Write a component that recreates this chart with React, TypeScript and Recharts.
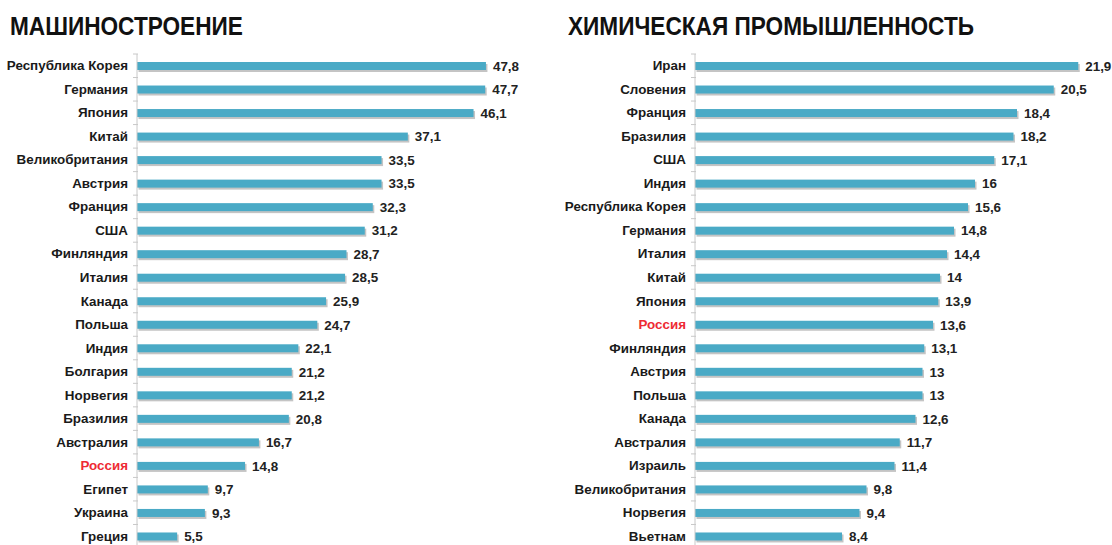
import React from "react";
import { BarChart, Bar, XAxis, YAxis, LabelList } from "recharts";

const machineCountries = [
  "Республика Корея", "Германия", "Япония", "Китай", "Великобритания", "Австрия", "Франция",
  "США", "Финляндия", "Италия", "Канада", "Польша", "Индия", "Болгария", "Норвегия",
  "Бразилия", "Австралия", "Россия", "Египет", "Украина", "Греция",
];
const machineValues = [
  47.8, 47.7, 46.1, 37.1, 33.5, 33.5, 32.3, 31.2, 28.7, 28.5, 25.9, 24.7, 22.1, 21.2, 21.2,
  20.8, 16.7, 14.8, 9.7, 9.3, 5.5,
];

const chemCountries = [
  "Иран", "Словения", "Франция", "Бразилия", "США", "Индия", "Республика Корея", "Германия",
  "Италия", "Китай", "Япония", "Россия", "Финляндия", "Австрия", "Польша", "Канада",
  "Австралия", "Израиль", "Великобритания", "Норвегия", "Вьетнам",
];
const chemValues = [
  21.9, 20.5, 18.4, 18.2, 17.1, 16, 15.6, 14.8, 14.4, 14, 13.9, 13.6, 13.1, 13, 13, 12.6,
  11.7, 11.4, 9.8, 9.4, 8.4,
];

const BAR_COLOR = "#4aaac6";
const SHADOW = "#c4c4c4";
const FONT = "'Liberation Sans', Arial, sans-serif";

const toRows = (names: string[], vals: number[]) =>
  names.map((name, i) => ({ name, value: vals[i] }));

const fmt = (v: number) => String(v).replace(".", ",");

function ShadowBar(props: any) {
  const { x, y, width, height } = props;
  const h = 8;
  const top = y + (height - h) / 2;
  return (
    <g>
      <rect x={x + 1.5} y={top + 2} width={Math.max(0, width)} height={h} fill={SHADOW} />
      <rect x={x} y={top} width={Math.max(0, width)} height={h} fill={BAR_COLOR} />
    </g>
  );
}

function makeTick(step: number) {
  return function CatTick(props: any) {
    const { x, y, payload } = props;
    const red = payload.value === "Россия";
    return (
      <g>
        <line x1={x + 4} x2={x + 9} y1={y - step / 2} y2={y - step / 2} stroke="#c8c8c8" />
        <text
          x={x - 1}
          y={y}
          dy={4.5}
          textAnchor="end"
          fontFamily={FONT}
          fontWeight="bold"
          fontSize={13.4}
          fill={red ? "#ee2b33" : "#1a1a1a"}
        >
          {payload.value}
        </text>
      </g>
    );
  };
}

function Panel({
  title, names, vals, max, left, width, plotH,
}: {
  title: string; names: string[]; vals: number[]; max: number; left: number; width: number; plotH: number;
}) {
  const data = toRows(names, vals);
  const step = plotH / names.length;
  return (
    <div style={{ position: "absolute", left, top: 0 }}>
      <div
        style={{
          position: "absolute",
          left: 10,
          top: 12,
          fontFamily: FONT,
          fontWeight: "bold",
          fontSize: 25,
          color: "#111",
          whiteSpace: "nowrap",
          transform: "scaleX(0.905)",
          transformOrigin: "left center",
        }}
      >
        {title}
      </div>
      <BarChart
        width={width}
        height={54 + plotH + 10}
        data={data}
        layout="vertical"
        margin={{ top: 54, right: 10, bottom: 10, left: 7 }}
        barCategoryGap={0}
      >
        <XAxis type="number" domain={[0, max]} hide />
        <YAxis
          type="category"
          dataKey="name"
          width={130}
          axisLine={{ stroke: "#c8c8c8" }}
          tickLine={false}
          interval={0}
          tick={makeTick(step)}
        />
        <Bar dataKey="value" shape={<ShadowBar />} isAnimationActive={false}>
          <LabelList
            dataKey="value"
            position="right"
            offset={7}
            formatter={(v: any) => fmt(v)}
            style={{ fontFamily: FONT, fontWeight: "bold", fontSize: 13.4, fill: "#222" }}
          />
        </Bar>
      </BarChart>
    </div>
  );
}

export default function App() {
  return (
    <div
      style={{
        position: "absolute",
        left: 0,
        top: 0,
        width: 1112,
        height: 545,
        overflow: "hidden",
        background: "#fff",
      }}
    >
      <Panel title="МАШИНОСТРОЕНИЕ" names={machineCountries} vals={machineValues}
        max={60} left={0} width={137 + 438 + 10} plotH={494} />
      <Panel title="ХИМИЧЕСКАЯ ПРОМЫШЛЕННОСТЬ" names={chemCountries} vals={chemValues}
        max={24} left={558} width={137 + 420 + 10} plotH={494} />
    </div>
  );
}
